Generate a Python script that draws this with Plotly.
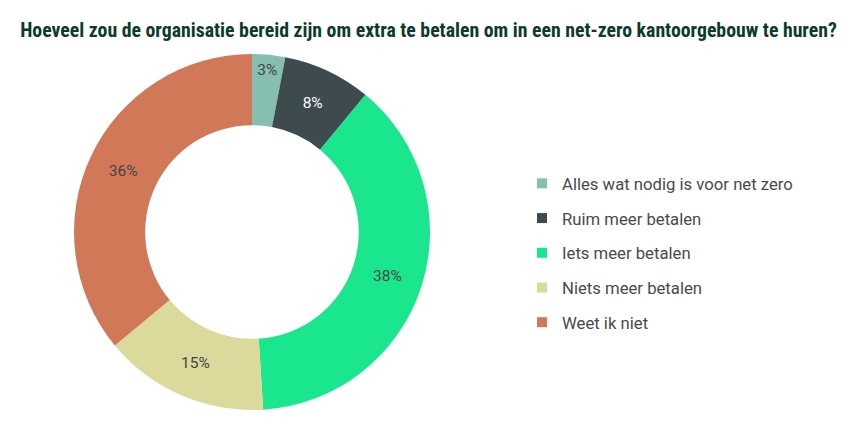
import plotly.graph_objects as go

labels = ["Alles wat nodig is voor net zero", "Ruim meer betalen", "Iets meer betalen",
          "Niets meer betalen", "Weet ik niet"]
values = [3, 8, 38, 15, 36]
colors = ["#86BEAF", "#3E4B4E", "#1AE68D", "#DCD99C", "#D17859"]
text_colors = ["#454545", "#FFFFFF", "#454545", "#454545", "#454545"]

W, H = 857, 431
cx, cy, R = 252, 232, 178

fig = go.Figure()
fig.add_trace(go.Pie(
    labels=labels, values=values, sort=False, direction="clockwise", rotation=0,
    hole=0.6, marker=dict(colors=colors, line=dict(width=0)),
    texttemplate="%{value}%", textposition="inside", insidetextorientation="horizontal",
    textfont=dict(family="Roboto, Arial, sans-serif", size=15.5, color=text_colors),
    showlegend=False, hoverinfo="label+value",
    domain=dict(x=[(cx - R) / W, (cx + R) / W], y=[(H - cy - R) / H, (H - cy + R) / H]),
))
for i, (lab, col) in enumerate(zip(labels, colors)):
    fig.add_trace(go.Scatter(
        x=[None], y=[None], mode="markers", name=lab, legendgroup=f"g{i}",
        marker=dict(symbol="square", size=10, color=col), showlegend=True,
    ))

fig.update_layout(
    width=W, height=H, margin=dict(l=0, r=0, t=0, b=0),
    paper_bgcolor="white", plot_bgcolor="white",
    xaxis=dict(visible=False), yaxis=dict(visible=False),
    title=dict(text="<b>Hoeveel zou de organisatie bereid zijn om extra te betalen om in een net-zero kantoorgebouw te huren?</b>",
               x=0.5, xanchor="center", y=1 - 30 / H, yanchor="middle",
               font=dict(family="Liberation Sans Narrow, Arial Narrow, Roboto Condensed, sans-serif",
                         size=19.8, color="#0C3B2B")),
    legend=dict(x=522 / W, y=1 - 166 / H, xanchor="left", yanchor="top",
                font=dict(family="Roboto, Arial, sans-serif", size=16.7, color="#4A4A4A"),
                tracegroupgap=10, traceorder="grouped", itemclick=False, bgcolor="rgba(0,0,0,0)"),
)
fig.write_html("out.html")
